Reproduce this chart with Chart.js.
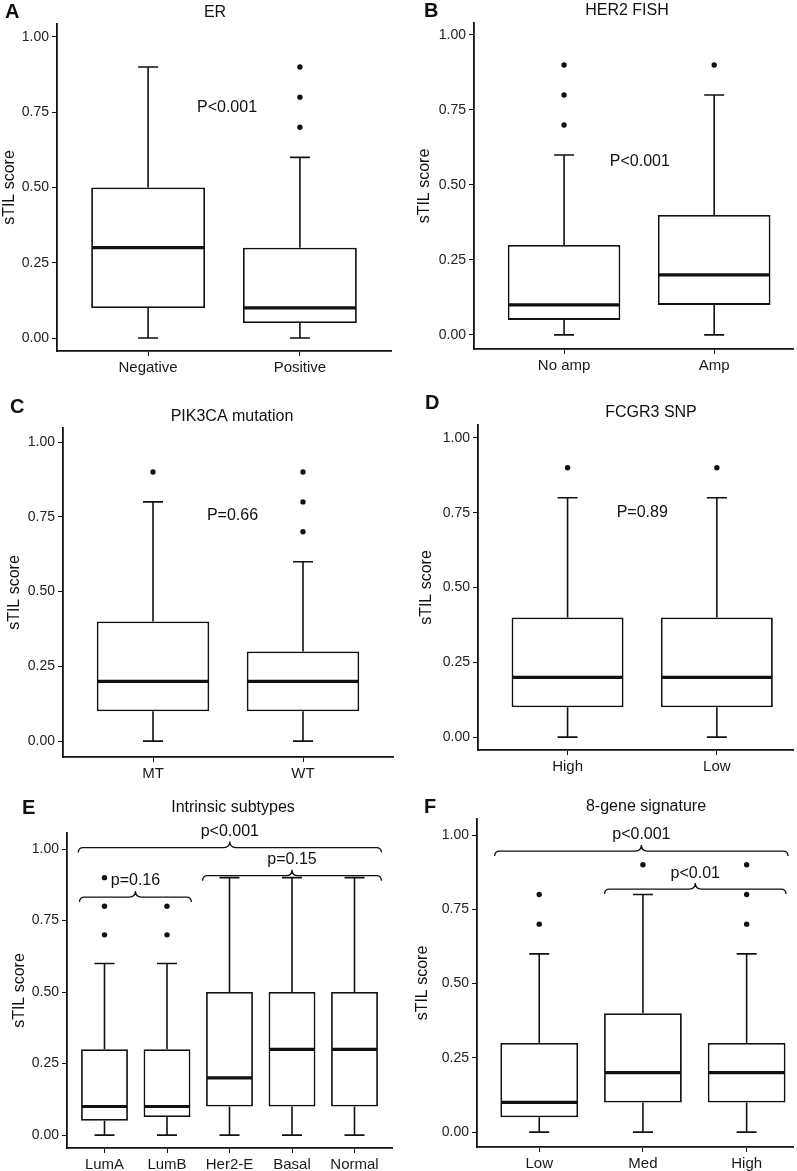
<!DOCTYPE html>
<html>
<head>
<meta charset="utf-8">
<script src="https://cdn.jsdelivr.net/npm/chart.js@4.4.0/dist/chart.umd.min.js"></script>
<style>
  html, body { margin: 0; padding: 0; background: #fff; }
  body { width: 797px; height: 1171px; position: relative; overflow: hidden; }
  canvas { position: absolute; }
</style>
</head>
<body>
<canvas id="pA" width="397" height="388" style="left:0;top:0"></canvas>
<canvas id="pB" width="400" height="388" style="left:397px;top:0"></canvas>
<canvas id="pC" width="397" height="394" style="left:0;top:388px"></canvas>
<canvas id="pD" width="400" height="394" style="left:397px;top:388px"></canvas>
<canvas id="pE" width="397" height="389" style="left:0;top:782px"></canvas>
<canvas id="pF" width="400" height="389" style="left:397px;top:782px"></canvas>
<script>
const yTicks = [0, 0.25, 0.5, 0.75, 1];

// A - ER
const erCats = ["Negative", "Positive"];
const erLow = [0, 0];
const erQ1 = [0.1, 0.05];
const erMed = [0.3, 0.1];
const erQ3 = [0.5, 0.3];
const erHigh = [0.9, 0.6];
const erOutX = [2, 2, 2];
const erOutY = [0.7, 0.8, 0.9];

// B - HER2 FISH
const herCats = ["No amp", "Amp"];
const herLow = [0, 0];
const herQ1 = [0.05, 0.1];
const herMed = [0.1, 0.2];
const herQ3 = [0.3, 0.4];
const herHigh = [0.6, 0.8];
const herOutX = [1, 1, 1, 2];
const herOutY = [0.7, 0.8, 0.9, 0.9];

// C - PIK3CA mutation
const pikCats = ["MT", "WT"];
const pikLow = [0, 0];
const pikQ1 = [0.1, 0.1];
const pikMed = [0.2, 0.2];
const pikQ3 = [0.4, 0.3];
const pikHigh = [0.8, 0.6];
const pikOutX = [1, 2, 2, 2];
const pikOutY = [0.9, 0.7, 0.8, 0.9];

// D - FCGR3 SNP
const fcCats = ["High", "Low"];
const fcLow = [0, 0];
const fcQ1 = [0.1, 0.1];
const fcMed = [0.2, 0.2];
const fcQ3 = [0.4, 0.4];
const fcHigh = [0.8, 0.8];
const fcOutX = [1, 2];
const fcOutY = [0.9, 0.9];

// E - Intrinsic subtypes
const subCats = ["LumA", "LumB", "Her2-E", "Basal", "Normal"];
const subLow = [0, 0, 0, 0, 0];
const subQ1 = [0.05, 0.063, 0.1, 0.1, 0.1];
const subMed = [0.1, 0.1, 0.2, 0.3, 0.3];
const subQ3 = [0.3, 0.3, 0.5, 0.5, 0.5];
const subHigh = [0.6, 0.6, 0.9, 0.9, 0.9];
const subOutX = [1, 1, 1, 2, 2];
const subOutY = [0.7, 0.8, 0.9, 0.7, 0.8];
const subBraceFrom = [0.58, 0.6, 2.57];
const subBraceTo = [5.43, 2.39, 5.43];
const subBraceY = [1.005, 0.832, 0.907];
const subBraceText = ["p<0.001", "p=0.16", "p=0.15"];

// F - 8-gene signature
const sigCats = ["Low", "Med", "High"];
const sigLow = [0, 0, 0];
const sigQ1 = [0.05, 0.1, 0.1];
const sigMed = [0.1, 0.2, 0.2];
const sigQ3 = [0.3, 0.4, 0.3];
const sigHigh = [0.6, 0.8, 0.6];
const sigOutX = [1, 1, 2, 3, 3, 3];
const sigOutY = [0.7, 0.8, 0.9, 0.7, 0.8, 0.9];
const sigBraceFrom = [0.57, 1.63];
const sigBraceTo = [3.4, 3.38];
const sigBraceY = [0.946, 0.818];
const sigBraceText = ["p<0.001", "p<0.01"];

const FONT = "'Liberation Sans', Arial, Helvetica, sans-serif";
const INK = "#111";

// whiskers, caps and median lines, placed with the chart's own scales
const boxParts = {
  id: "boxParts",
  afterDatasetsDraw(chart, args, o) {
    const { ctx } = chart;
    const x = chart.scales.x, y = chart.scales.y;
    const bars = chart.getDatasetMeta(0).data;
    ctx.save();
    ctx.strokeStyle = INK;
    o.low.forEach((lo, i) => {
      const cx = x.getPixelForValue(i + 1);
      const half = bars[i].width / 2;
      const cap = 10;
      ctx.lineWidth = 1.6;
      ctx.beginPath();
      ctx.moveTo(cx, y.getPixelForValue(o.q1[i]));
      ctx.lineTo(cx, y.getPixelForValue(lo));
      ctx.moveTo(cx - cap, y.getPixelForValue(lo));
      ctx.lineTo(cx + cap, y.getPixelForValue(lo));
      ctx.moveTo(cx, y.getPixelForValue(o.q3[i]));
      ctx.lineTo(cx, y.getPixelForValue(o.high[i]));
      ctx.moveTo(cx - cap, y.getPixelForValue(o.high[i]));
      ctx.lineTo(cx + cap, y.getPixelForValue(o.high[i]));
      ctx.stroke();
      ctx.lineWidth = 3.2;
      ctx.beginPath();
      ctx.moveTo(cx - half + 1, y.getPixelForValue(o.med[i]));
      ctx.lineTo(cx + half - 1, y.getPixelForValue(o.med[i]));
      ctx.stroke();
    });
    ctx.restore();
  }
};

// panel letter, title, p-values and comparison braces
const panelText = {
  id: "panelText",
  afterDraw(chart, args, o) {
    const { ctx } = chart;
    const x = chart.scales.x, y = chart.scales.y;
    ctx.save();
    ctx.fillStyle = INK;
    ctx.textBaseline = "middle";
    ctx.textAlign = "left";
    ctx.font = "bold 20px " + FONT;
    ctx.fillText(o.letter, o.letterAt[0], o.letterAt[1]);
    ctx.textAlign = "center";
    ctx.font = "16px " + FONT;
    ctx.fillText(o.title, o.titleAt[0], o.titleAt[1]);
    if (o.pText) {
      ctx.fillText(o.pText, x.getPixelForValue(o.pAt[0]), y.getPixelForValue(o.pAt[1]));
    }
    (o.braceFrom || []).forEach((from, i) => {
      const x1 = x.getPixelForValue(from);
      const x2 = x.getPixelForValue(o.braceTo[i]);
      const by = y.getPixelForValue(o.braceY[i]);
      const xm = (x1 + x2) / 2;
      const r = 5, m = 6;
      ctx.strokeStyle = INK;
      ctx.lineWidth = 1.3;
      ctx.beginPath();
      ctx.moveTo(x1, by + r);
      ctx.quadraticCurveTo(x1, by, x1 + r, by);
      ctx.lineTo(xm - m, by);
      ctx.quadraticCurveTo(xm, by, xm, by - m);
      ctx.quadraticCurveTo(xm, by, xm + m, by);
      ctx.lineTo(x2 - r, by);
      ctx.quadraticCurveTo(x2, by, x2, by + r);
      ctx.stroke();
      ctx.fillText(o.braceText[i], xm, by - 16);
    });
    ctx.restore();
  }
};

function boxChart(id, d, lay) {
  const boxes = d.cats.map((c, i) => ({ x: i + 1, y: [d.q1[i], d.q3[i]] }));
  const outs = d.outX.map((v, i) => ({ x: v, y: d.outY[i] }));
  return new Chart(document.getElementById(id), {
    type: "bar",
    data: {
      datasets: [
        {
          type: "bar",
          data: boxes,
          backgroundColor: "#fff",
          borderColor: INK,
          borderWidth: 1.8,
          borderSkipped: false,
          barPercentage: 0.75,
          categoryPercentage: 1
        },
        {
          type: "scatter",
          data: outs,
          pointRadius: 2.7,
          pointBackgroundColor: INK,
          pointBorderWidth: 0
        }
      ]
    },
    options: {
      responsive: false,
      animation: false,
      events: [],
      layout: { padding: { left: lay.padL, top: lay.padT, right: lay.padR, bottom: 0 } },
      plugins: {
        legend: { display: false },
        tooltip: { enabled: false },
        boxParts: { low: d.low, q1: d.q1, med: d.med, q3: d.q3, high: d.high },
        panelText: {
          letter: lay.letter, letterAt: lay.letterAt,
          title: lay.title, titleAt: lay.titleAt,
          pText: d.pText, pAt: lay.pAt,
          braceFrom: d.braceFrom, braceTo: d.braceTo, braceY: d.braceY, braceText: d.braceText
        }
      },
      scales: {
        x: {
          type: "linear",
          min: 0.4,
          max: lay.xMax,
          offset: false,
          grid: { display: true, drawOnChartArea: false, drawTicks: true, tickLength: 5, color: INK, offset: false },
          border: { display: true, color: INK, width: 1.8 },
          ticks: {
            color: "#1a1a1a",
            padding: 3,
            font: { family: FONT, size: 15 },
            callback: (v) => d.cats[v - 1]
          },
          afterBuildTicks: (s) => { s.ticks = d.cats.map((c, i) => ({ value: i + 1 })); },
          afterFit: (s) => { s.height = lay.xH; }
        },
        y: {
          min: lay.yMin,
          max: lay.yMax,
          grid: { display: true, drawOnChartArea: false, drawTicks: true, tickLength: 5, color: INK },
          border: { display: true, color: INK, width: 1.8 },
          ticks: {
            color: "#222",
            padding: 3,
            font: { family: FONT, size: 14 },
            callback: (v) => Number(v).toFixed(2)
          },
          afterBuildTicks: (s) => { s.ticks = yTicks.map((v) => ({ value: v })); },
          afterFit: (s) => { s.width = lay.yW; },
          title: { display: true, text: "sTIL score", color: INK, padding: 0, font: { family: FONT, size: 16 } }
        }
      }
    },
    plugins: [boxParts, panelText]
  });
}

boxChart("pA",
  { cats: erCats, low: erLow, q1: erQ1, med: erMed, q3: erQ3, high: erHigh, outX: erOutX, outY: erOutY, pText: "P<0.001" },
  { padL: 0, yW: 57, padT: 24, padR: 6, xH: 37, xMax: 2.6, yMin: -0.043, yMax: 1.043,
    letter: "A", letterAt: [5, 12], title: "ER", titleAt: [215, 13], pAt: [1.52, 0.765] });

boxChart("pB",
  { cats: herCats, low: herLow, q1: herQ1, med: herMed, q3: herQ3, high: herHigh, outX: herOutX, outY: herOutY, pText: "P<0.001" },
  { padL: 18, yW: 59, padT: 23, padR: 0, xH: 39, xMax: 2.525, yMin: -0.047, yMax: 1.04,
    letter: "B", letterAt: [27, 11], title: "HER2 FISH", titleAt: [230, 11], pAt: [1.505, 0.577] });

boxChart("pC",
  { cats: pikCats, low: pikLow, q1: pikQ1, med: pikMed, q3: pikQ3, high: pikHigh, outX: pikOutX, outY: pikOutY, pText: "P=0.66" },
  { padL: 5, yW: 58, padT: 40, padR: 0, xH: 25, xMax: 2.6, yMin: -0.053, yMax: 1.047,
    letter: "C", letterAt: [10, 19], title: "PIK3CA mutation", titleAt: [232, 29], pAt: [1.53, 0.753] });

boxChart("pD",
  { cats: fcCats, low: fcLow, q1: fcQ1, med: fcMed, q3: fcQ3, high: fcHigh, outX: fcOutX, outY: fcOutY, pText: "P=0.89" },
  { padL: 20, yW: 61, padT: 37, padR: 0, xH: 32, xMax: 2.51, yMin: -0.043, yMax: 1.043,
    letter: "D", letterAt: [28, 15], title: "FCGR3 SNP", titleAt: [254, 25], pAt: [1.5, 0.75] });

boxChart("pE",
  { cats: subCats, low: subLow, q1: subQ1, med: subMed, q3: subQ3, high: subHigh, outX: subOutX, outY: subOutY,
    braceFrom: subBraceFrom, braceTo: subBraceTo, braceY: subBraceY, braceText: subBraceText },
  { padL: 10, yW: 57, padT: 51, padR: 5, xH: 23, xMax: 5.6, yMin: -0.045, yMax: 1.056,
    letter: "E", letterAt: [22, 26], title: "Intrinsic subtypes", titleAt: [233, 26] });

boxChart("pF",
  { cats: sigCats, low: sigLow, q1: sigQ1, med: sigMed, q3: sigQ3, high: sigHigh, outX: sigOutX, outY: sigOutY,
    braceFrom: sigBraceFrom, braceTo: sigBraceTo, braceY: sigBraceY, braceText: sigBraceText },
  { padL: 16, yW: 64, padT: 37, padR: 0, xH: 24, xMax: 3.447, yMin: -0.05, yMax: 1.054,
    letter: "F", letterAt: [27, 25], title: "8-gene signature", titleAt: [249, 25] });
</script>
</body>
</html>
